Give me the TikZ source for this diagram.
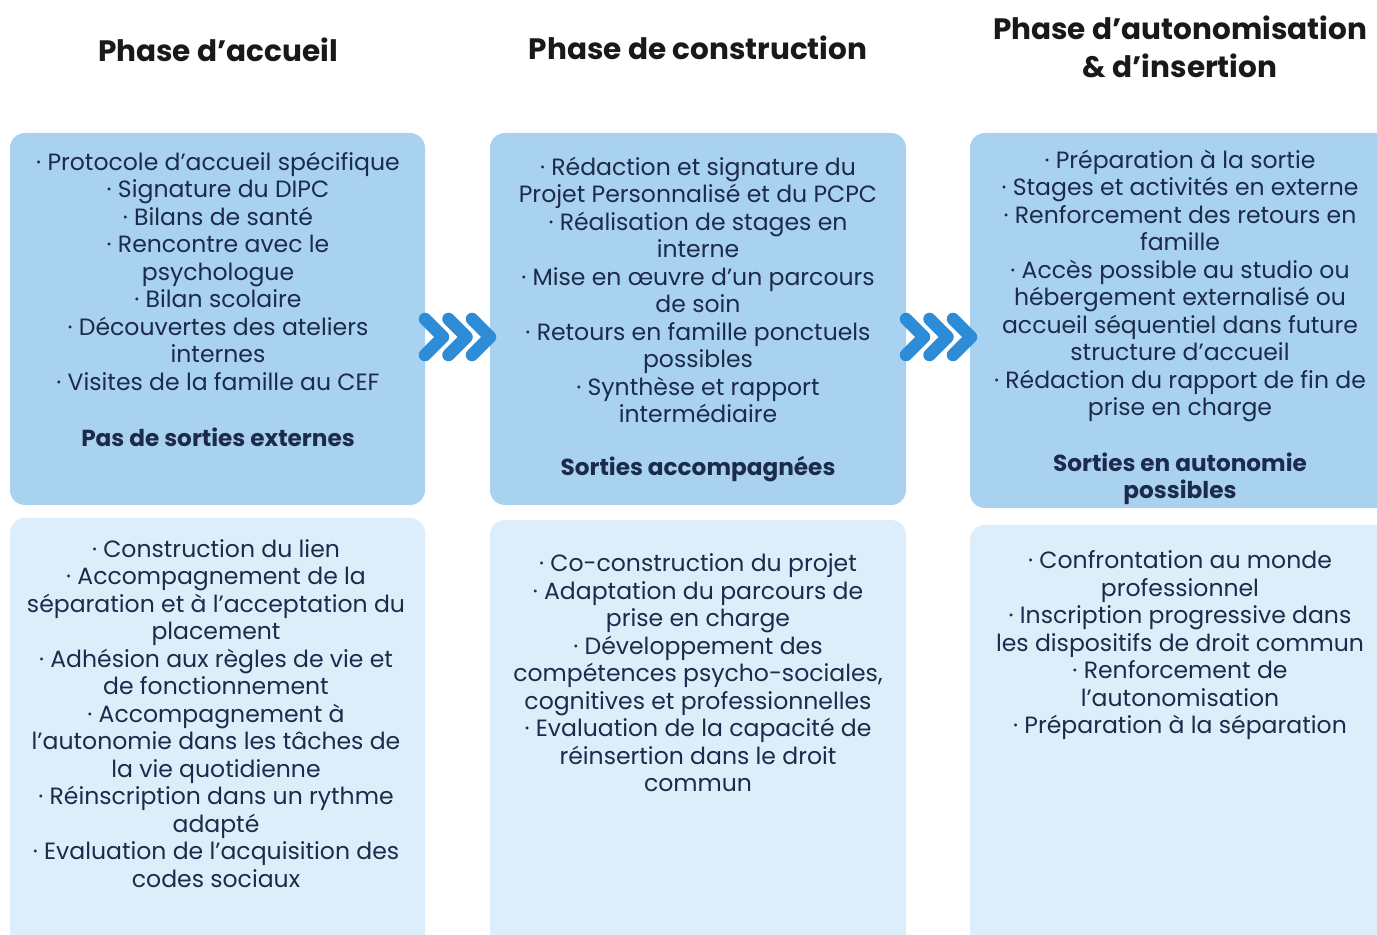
\documentclass[tikz,border=0pt]{standalone}
\usepackage{fontspec}
\setmainfont{Poppins}
\definecolor{boxtop}{HTML}{A9D1F0}
\definecolor{boxbottom}{HTML}{DDEEFA}
\definecolor{chevron}{HTML}{2E8BD6}
\definecolor{textnavy}{HTML}{1C2B4B}
\begin{document}
\begin{tikzpicture}[x=0.02cm, y=-0.02cm,
		phasebox/.style={rounded corners=0.3cm},
		itemtext/.style={align=center, text=textnavy, font=\fontsize{13.4}{15.65}\selectfont, inner sep=0pt},
		boldtext/.style={itemtext, font=\fontsize{13.2}{15.65}\selectfont\bfseries},
		titletext/.style={align=center, text=black!90, font=\fontsize{16.8}{22}\selectfont\bfseries, inner sep=0pt}]
			\clip (0,0) rectangle (1377,935);
			\fill[white] (0,0) rectangle (1377,935);
			% titres
			\node (titreAccueil) [titletext] at (218,50) {Phase d’accueil};
			\node (titreConstruction) [titletext] at (698,48) {Phase de construction};
			\node (titreAutonomie) [titletext] at (1180,47) {Phase d’autonomisation\\ \& d’insertion};
			% cadres
			\fill[boxtop, phasebox] (10,133) rectangle (425,505);
			\fill[boxtop, phasebox] (490,133) rectangle (906,505);
			\fill[boxtop, phasebox] (970,133) rectangle (1395,508);
			\fill[boxbottom, phasebox] (10,518) rectangle (425,960);
			\fill[boxbottom, phasebox] (490,520) rectangle (906,960);
			\fill[boxbottom, phasebox] (970,525) rectangle (1395,960);
			% fleches
			\foreach \dx in {0,481} {
				\foreach \k in {0,23.5,47} {
					\draw[chevron, line width=0.25cm, line cap=round, line join=round]
						(425+\dx+\k,319) -- (443+\dx+\k,337) -- (425+\dx+\k,355);
				}
			}
			% phase d'accueil
			\node (accueilHaut) [itemtext] at (218,271) {
				· Protocole d’accueil spécifique\\
				· Signature du DIPC\\
				· Bilans de santé\\
				· Rencontre avec le\\
				psychologue\\
				· Bilan scolaire\\
				· Découvertes des ateliers\\
				internes\\
				· Visites de la famille au CEF};
			\node (accueilSorties) [boldtext] at (218,437) {Pas de sorties externes};
			\node (accueilBas) [itemtext] at (216,713.5) {
				· Construction du lien\\
				· Accompagnement de la\\
				séparation et à l’acceptation du\\
				placement\\
				· Adhésion aux règles de vie et\\
				de fonctionnement\\
				· Accompagnement à\\
				l’autonomie dans les tâches de\\
				la vie quotidienne\\
				· Réinscription dans un rythme\\
				adapté\\
				· Evaluation de l’acquisition des\\
				codes sociaux};
			% phase de construction
			\node (constructionHaut) [itemtext] at (698,290) {
				· Rédaction et signature du\\
				Projet Personnalisé et du PCPC\\
				· Réalisation de stages en\\
				interne\\
				· Mise en œuvre d’un parcours\\
				de soin\\
				· Retours en famille ponctuels\\
				possibles\\
				· Synthèse et rapport\\
				intermédiaire};
			\node (constructionSorties) [boldtext] at (698,469) {Sorties accompagnées};
			\node (constructionBas) [itemtext] at (698,673) {
				· Co-construction du projet\\
				· Adaptation du parcours de\\
				prise en charge\\
				· Développement des\\
				compétences psycho-sociales,\\
				cognitives et professionnelles\\
				· Evaluation de la capacité de\\
				réinsertion dans le droit\\
				commun};
			% phase d'autonomisation
			\node (autonomieHaut) [itemtext] at (1180,286) {
				· Préparation à la sortie\\
				· Stages et activités en externe\\
				· Renforcement des retours en\\
				famille\\
				· Accès possible au studio ou\\
				hébergement externalisé ou\\
				accueil séquentiel dans future\\
				structure d’accueil\\
				· Rédaction du rapport de fin de\\
				prise en charge};
			\node (autonomieSorties) [boldtext] at (1180,479) {Sorties en autonomie\\ possibles};
			\node (autonomieBas) [itemtext] at (1180,645.5) {
				· Confrontation au monde\\
				professionnel\\
				· Inscription progressive dans\\
				les dispositifs de droit commun\\
				· Renforcement de\\
				l’autonomisation\\
				· Préparation à la séparation};
		\end{tikzpicture}
\end{document}
